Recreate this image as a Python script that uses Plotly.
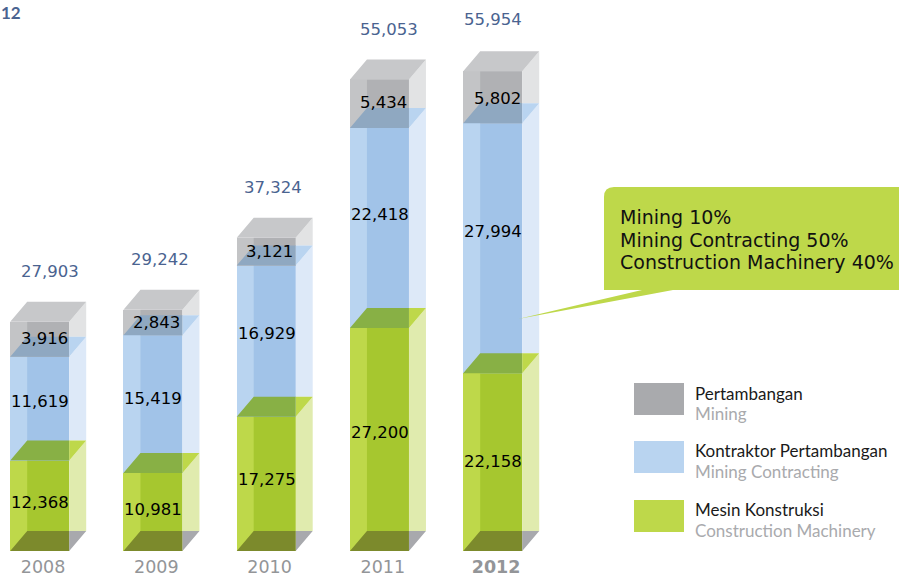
import plotly.graph_objects as go

# ---------- data ----------
years = ["2008", "2009", "2010", "2011", "2012"]
construction = [12368, 10981, 17275, 27200, 22158]
contracting = [11619, 15419, 16929, 22418, 27994]
mining = [3916, 2843, 3121, 5434, 5802]
totals = [27903, 29242, 37324, 55053, 55954]
callout_lines = ["Mining 10%", "Mining Contracting 50%", "Construction Machinery 40%"]
legend_names = [("Pertambangan", "Mining"),
                ("Kontraktor Pertambangan", "Mining Contracting"),
                ("Mesin Konstruksi", "Construction Machinery")]

# ---------- geometry / style ----------
W, H = 899, 577
FLOOR_PX = 551
DEPTH = 2240            # apparent depth of a box, in value units
TOP = 63942
STEP = 113.25
BAR_W = 59 / STEP
DX = 17 / STEP
X0 = -39.7 / STEP
XMAX = X0 + W / STEP

FONT = "DejaVu Sans"
LEG_FONT = "Lato"
GREEN = dict(left="#BED84A", mid="#A6C72F", right="#E0EBAE", face="#88B045", tri="#BED84A")
BLUE = dict(left="#B9D4F0", mid="#A1C3E8", right="#DDE9F8", face="#8FA8C1", tri="#B9D4F0")
GRAY = dict(left="#C3C4C6", mid="#B0B1B4", right="#E2E3E4", face="#C7C8CA", tri="#C7C8CA")
SERIES = [(construction, GREEN), (contracting, BLUE), (mining, GRAY)]
NAVY = "#4A6390"

total_dx = [10.5, 7.5, 6.5, 9.5, 0.5]
total_up = [30, 30, 30, 30, 32]
gray_dx = [5, 3.5, 3, 4.5, 4.5]
label_up = [[3, 7, 1], [2, 6, 0.5], [4, 8, 0], [7.5, 14, 0.7], [1, 17, -1]]
year_shift = 0.03

fig = go.Figure()
xs = list(range(len(years)))

# front faces: ordinary stacked bars, the axis starts at the floor of the boxes
for vals, col in SERIES:
    fig.add_trace(go.Bar(x=xs, y=vals, width=BAR_W, marker=dict(color=col["left"], line_width=0),
                         showlegend=False, hoverinfo="skip"))

layers = {}
def poly(order, color, pts):
    layers.setdefault((order, color), []).append(pts)

for i in xs:
    x0, x1 = i - BAR_W / 2, i + BAR_W / 2
    base = 0
    for k, (vals, c) in enumerate(SERIES):
        hi = base + vals[i]
        low = max(base, DEPTH)
        poly(0, c["mid"], [(x0 + DX, low), (x1, low), (x1, hi), (x0 + DX, hi)])
        poly(0, c["right"], [(x1, low + DEPTH), (x1 + DX, low + DEPTH), (x1 + DX, hi + DEPTH), (x1, hi)])
        if k < 2:
            poly(1, c["face"], [(x0, hi), (x1, hi), (x1, hi + DEPTH), (x0 + DX, hi + DEPTH)])
            poly(1, c["tri"], [(x1, hi), (x1 + DX, hi + DEPTH), (x1, hi + DEPTH)])
        else:
            poly(1, c["face"], [(x0, hi), (x1, hi), (x1 + DX, hi + DEPTH), (x0 + DX, hi + DEPTH)])
        base = hi
    poly(1, "#7C8A2C", [(x0, DEPTH), (x1, DEPTH), (x1, 2 * DEPTH), (x0 + DX, 2 * DEPTH)])
    poly(1, "#A8A9AD", [(x1, DEPTH), (x1 + DX, 2 * DEPTH), (x1, 2 * DEPTH)])

for (order, color), plist in sorted(layers.items(), key=lambda kv: kv[0][0]):
    px, py = [], []
    for pts in plist:
        px += [p[0] for p in pts] + [pts[0][0], None]
        py += [p[1] for p in pts] + [pts[0][1], None]
    fig.add_trace(go.Scatter(x=px, y=py, mode="lines", fill="toself", fillcolor=color,
                             line=dict(width=0, color=color), showlegend=False, hoverinfo="skip"))

def X(p): return p / W
def Y(p): return (FLOOR_PX - p) / FLOOR_PX

annotations = []
def note(text, x, y, size, color, family=FONT, anchor="center", **kw):
    annotations.append(dict(text=text, x=x, y=y, showarrow=False, xanchor=anchor, yanchor="middle",
                            font=dict(family=family, size=size, color=color), **kw))

# value labels
for i in xs:
    base = 0
    for k, (vals, _) in enumerate(SERIES):
        hi = base + vals[i]
        mid = (max(base, DEPTH) + hi) / 2
        note(f"{vals[i]:,}", i, mid, 16.5, "#000000",
             xshift=gray_dx[i] if k == 2 else 0.5, yshift=label_up[i][k], xref="x", yref="y")
        base = hi
    note(f"{totals[i]:,}", i, sum(v[0][i] for v in SERIES) + DEPTH, 16.5, NAVY,
         xshift=total_dx[i], yshift=total_up[i], xref="x", yref="y")

note("<b>12</b>", X(-1), Y(12), 17, NAVY, family=LEG_FONT, anchor="left", xref="paper", yref="paper")

# callout
c_top, c_bot, c_tip = 187, 290, 319
shapes = [dict(type="path", xref="paper", yref="paper", layer="above", line_width=0, fillcolor="#BED84A",
               path=(f"M{X(604)},{Y(c_bot)} L{X(604)},{Y(c_top + 10)} Q{X(604)},{Y(c_top)} {X(614)},{Y(c_top)} "
                     f"L{X(899)},{Y(c_top)} L{X(899)},{Y(c_bot)} L{X(673)},{Y(c_bot)} L{X(518)},{Y(c_tip)} "
                     f"L{X(642)},{Y(c_bot)} Z"))]
for line, yp in zip(callout_lines, [217, 239.5, 262]):
    note(line, X(618), Y(yp), 19, "#111111", anchor="left", xref="paper", yref="paper")

# legend
for (name, eng), col, top in zip(legend_names, ["#A9AAAD", "#B9D4F0", "#BED84A"], [383, 441, 500]):
    shapes.append(dict(type="rect", xref="paper", yref="paper", x0=X(634), x1=X(684), y0=Y(top), y1=Y(top + 32),
                       fillcolor=col, line_width=0, layer="above"))
    note(name, X(693), Y(top + 10), 17, "#1a1a1a", family=LEG_FONT, anchor="left", xref="paper", yref="paper")
    note(eng, X(693), Y(top + 30), 17, "#A9AAAD", family=LEG_FONT, anchor="left", xref="paper", yref="paper")

ticktext = years[:-1] + [f"<b>{years[-1]}</b>"]
fig.update_layout(
    width=W, height=H, barmode="stack", bargap=0,
    margin=dict(l=0, r=0, t=0, b=H - FLOOR_PX, pad=0, autoexpand=False),
    paper_bgcolor="white", plot_bgcolor="white", showlegend=False,
    annotations=annotations, shapes=shapes,
    xaxis=dict(range=[X0, XMAX], tickmode="array", tickvals=[i + year_shift for i in xs], ticktext=ticktext,
               showgrid=False, zeroline=False, showline=False, ticks="", ticklabelstandoff=3, automargin=False,
               tickfont=dict(family=FONT, size=17.5, color="#939598")),
    yaxis=dict(range=[DEPTH, TOP], showgrid=False, zeroline=False, showline=False, showticklabels=False, ticks=""),
)
fig.write_html("out.html", config=dict(displayModeBar=False),
               post_script="document.body.style.margin='0';document.documentElement.style.overflow='hidden';")
